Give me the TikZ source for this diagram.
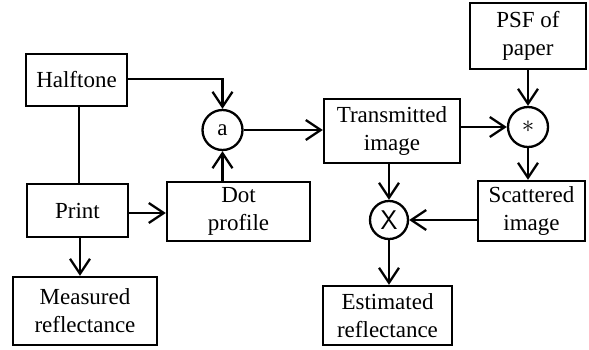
\documentclass[tikz,border=0pt]{standalone}
\usepackage{fontspec}
\setmainfont{Liberation Serif}
\usepackage{tikz}
\usetikzlibrary{arrows.meta}

\tikzset{
  blk/.style={draw, line width=2.3pt, align=center, inner sep=0pt,
    font=\fontsize{23}{28}\selectfont},
  opnode/.style={draw, circle, line width=2.3pt, inner sep=0pt,
    minimum size=40pt, font=\fontsize{23}{28}\selectfont},
  flow/.style={line width=2.3pt, -{Straight Barb[length=15pt,width=20pt,line width=2.3pt]}},
  wire/.style={line width=2.3pt}
}

\begin{document}
\begin{tikzpicture}[x=1pt,y=-1pt]
\useasboundingbox (0,0) rectangle (589,349);
% boxes
\node [blk, minimum width=101pt, minimum height=52pt] (half) at (76.5,80) {Halftone};
\node [blk, minimum width=101pt, minimum height=53pt] (print) at (77.5,210.5) {Print};
\node [blk, minimum width=144pt, minimum height=68pt] (meas) at (85,311) {Measured\\reflectance};
\node [blk, minimum width=143pt, minimum height=59pt] (dot) at (238.5,211.5) {Dot\\profile};
\node [blk, minimum width=136pt, minimum height=64pt] (trans) at (392,131) {Transmitted\\image};
\node [blk, minimum width=116pt, minimum height=66pt] (psf) at (528,36) {PSF of\\paper};
\node [blk, minimum width=107pt, minimum height=60pt] (scat) at (531.5,211) {Scattered\\image};
\node [blk, minimum width=129pt, minimum height=59pt] (est) at (387.5,315.5) {Estimated\\reflectance};
% operators
\node [opnode] (opa) at (222.5,130) {a};
\node [opnode] (conv) at (528,127) {$*$};
\node [opnode, minimum size=38pt] (mult) at (389,220) {\fontfamily{lmss}\fontsize{27}{28}\selectfont X};
% connectors
\draw [flow] (half.east |- 0,79) -| (opa.north);
\draw [wire] (half.south -| 79,0) -- (print.north -| 79,0);
\draw [flow] (print.east |- 0,213) -- (dot.west |- 0,213);
\draw [flow] (print.south -| 80,0) -- (meas.north -| 80,0);
\draw [flow] (dot.north -| opa) -- (opa.south);
\draw [flow] (opa.east) -- (trans.west |- opa);
\draw [flow] (trans.east |- conv) -- (conv.west);
\draw [flow] (psf.south -| conv) -- (conv.north);
\draw [flow] (conv.south) -- (scat.north -| conv);
\draw [flow] (trans.south -| mult) -- (mult.north);
\draw [flow] (scat.west |- mult) -- (mult.east);
\draw [flow] (mult.south) -- (est.north -| mult);
\end{tikzpicture}
\end{document}
